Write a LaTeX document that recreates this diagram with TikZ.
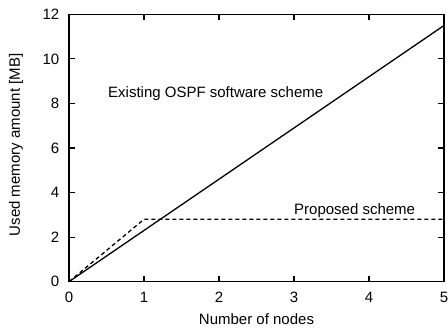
\documentclass[tikz,border=0pt]{standalone}
\usepackage{fontspec}
\setmainfont{Liberation Sans}
\begin{document}
\begin{tikzpicture}[x=1pt,y=1pt,
  lbl/.style={font=\fontsize{15}{18}\selectfont, inner sep=0pt},
  frame/.style={line width=1.4pt},
  tick/.style={line width=1.1pt},
  dataline/.style={line width=1.3pt},
  dashline/.style={line width=1.3pt, dash pattern=on 4pt off 3pt}]
\useasboundingbox (0,0) rectangle (448,331);
% axes box: origin (69,49.3), x unit 75, y unit 22.28
\coordinate (O) at (69,49.3);
\coordinate (TR) at (444,316.7);
% ticks
\foreach \i in {1,...,4}{
  \draw[tick] (69+75*\i,49.3) -- ++(0,6);
  \draw[tick] (69+75*\i,316.7) -- ++(0,-6);
}
\foreach \j in {1,...,5}{
  \draw[tick] (69,49.3+44.57*\j) -- ++(6,0);
  \draw[tick] (444,49.3+44.57*\j) -- ++(-6,0);
}
\draw[frame] (O) rectangle (TR);
% tick labels
\foreach \i in {0,...,5}{
  \node[lbl, anchor=center] (xl\i) at (69+75*\i,33.3) {\i};
}
\foreach \j/\v in {0/0,1/2,2/4,3/6,4/8,5/10,6/12}{
  \node[lbl, anchor=east] (yl\j) at (59.5,49.3+44.57*\j) {\v};
}
% axis labels
\node[lbl, anchor=base] (xlabel) at (256.5,6) {Number of nodes};
\node[lbl, anchor=base, rotate=90] (ylabel) at (20,186) {Used memory amount [MB]};
% data
\coordinate (s1) at (444,305.5);
\draw[dataline] (O) -- (s1);
\coordinate (d1) at (144,111.7);
\coordinate (d2) at (444,111.7);
\draw[dashline] (O) -- (d1) -- (d2);
% curve labels
\node[lbl, anchor=base west] (lexist) at (108,233) {Existing OSPF software scheme};
\node[lbl, anchor=base west] (lprop) at (294,116.5) {Proposed scheme};
\end{tikzpicture}
\end{document}
